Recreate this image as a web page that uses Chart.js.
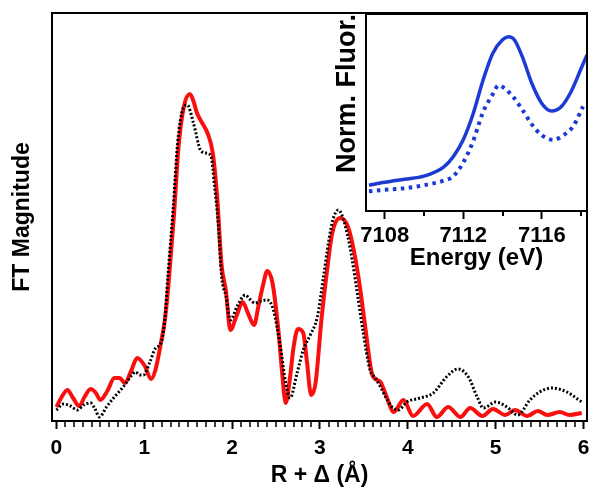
<!DOCTYPE html>
<html>
<head>
<meta charset="utf-8">
<script src="https://cdn.jsdelivr.net/npm/chart.js@4.4.1/dist/chart.umd.min.js"></script>
<style>
  html, body { margin: 0; padding: 0; background: #fff; }
  #wrap { position: relative; width: 602px; height: 500px; }
  #main { position: absolute; left: 0; top: 0; }
  #inset { position: absolute; left: 320px; top: 0; }
</style>
</head>
<body>
<div id="wrap">
  <canvas id="main" width="602" height="500"></canvas>
  <canvas id="inset" width="282" height="290"></canvas>
</div>
<script>
// FT magnitude, red solid trace
const rRed = [0.00, 0.06, 0.125, 0.19, 0.26, 0.32, 0.39, 0.45, 0.50, 0.58, 0.66, 0.72, 0.78, 0.85, 0.92, 1.00,
  1.08, 1.13, 1.19, 1.23, 1.26, 1.28, 1.34, 1.39, 1.45, 1.52, 1.56, 1.60, 1.66, 1.72, 1.78, 1.83, 1.88, 1.93,
  1.98, 2.05, 2.12, 2.18, 2.25, 2.30, 2.35, 2.40, 2.46, 2.53, 2.57, 2.61, 2.66, 2.70, 2.75, 2.81, 2.85, 2.90,
  2.95, 3.02, 3.08, 3.14, 3.23, 3.32, 3.40, 3.46, 3.52, 3.59, 3.65, 3.69, 3.76, 3.84, 3.95, 4.06, 4.22, 4.33,
  4.46, 4.60, 4.71, 4.85, 4.97, 5.11, 5.22, 5.36, 5.48, 5.59, 5.73, 5.84, 5.98];
const ftRed = [1.4, 2.4, 3.1, 2.3, 1.5, 2.4, 3.2, 2.8, 2.1, 3.0, 4.3, 4.3, 3.8, 5.0, 6.3, 5.6,
  4.2, 5.2, 7.8, 9.8, 12.1, 14.1, 20.8, 27.4, 31.4, 32.7, 32.0, 30.8, 29.8, 28.8, 26.8, 22.4, 15.6, 13.0,
  9.1, 10.5, 11.9, 10.8, 9.6, 11.5, 13.5, 15.0, 13.8, 8.8, 4.8, 1.8, 4.4, 7.4, 9.2, 8.8, 6.1, 2.6,
  3.8, 10.4, 15.0, 18.8, 20.3, 19.4, 16.4, 13.1, 9.1, 4.8, 4.1, 3.9, 2.4, 0.9, 2.1, 0.5, 1.7, 0.4,
  1.4, 0.4, 1.3, 0.5, 1.2, 0.6, 1.1, 0.5, 1.0, 0.6, 0.9, 0.6, 0.8];

// FT magnitude, black dotted trace
const rBlack = [0.00, 0.08, 0.16, 0.24, 0.31, 0.39, 0.44, 0.49, 0.57, 0.65, 0.76, 0.85, 0.90, 0.95, 0.99, 1.06,
  1.13, 1.19, 1.23, 1.27, 1.33, 1.38, 1.44, 1.49, 1.56, 1.64, 1.70, 1.76, 1.80, 1.84, 1.88, 1.93, 1.98,
  2.06, 2.15, 2.20, 2.26, 2.33, 2.40, 2.47, 2.55, 2.61, 2.66, 2.74, 2.81, 2.89, 2.97, 3.04, 3.10, 3.15,
  3.21, 3.28, 3.35, 3.42, 3.49, 3.57, 3.63, 3.69, 3.76, 3.82, 3.89, 3.99, 4.14, 4.29, 4.44, 4.57, 4.69,
  4.79, 4.86, 5.00, 5.13, 5.25, 5.39, 5.50, 5.64, 5.81, 5.98];
const ftBlack = [1.1, 1.7, 1.5, 1.1, 1.6, 1.8, 1.2, 0.4, 1.4, 2.3, 3.4, 4.5, 4.9, 4.6, 4.6, 5.8,
  7.3, 7.8, 9.8, 14.6, 21.3, 27.8, 31.2, 31.6, 29.8, 27.1, 26.8, 26.5, 23.5, 20.0, 14.5, 12.5, 10.1,
  11.5, 12.6, 12.2, 11.8, 12.0, 12.1, 11.1, 7.4, 3.8, 2.3, 4.8, 7.1, 8.6, 10.4, 14.4, 18.0, 20.2,
  21.1, 19.8, 17.0, 13.1, 9.0, 5.1, 4.3, 3.4, 2.2, 1.4, 1.1, 1.9, 2.3, 2.8, 4.4, 5.2, 4.4,
  2.4, 1.3, 1.9, 1.4, 0.6, 2.1, 2.9, 3.3, 2.9, 1.9];

// inset: normalized fluorescence vs energy
const eSolid = [7107.2, 7108, 7109, 7110, 7111, 7111.5, 7112, 7112.5, 7113, 7113.5, 7114, 7114.3, 7114.6,
  7115, 7115.5, 7116, 7116.5, 7117, 7117.5, 7118, 7118.3];
const fluorSolid = [0.17, 0.19, 0.21, 0.23, 0.29, 0.36, 0.47, 0.64, 0.86, 1.04, 1.13, 1.15, 1.13,
  1.02, 0.84, 0.71, 0.66, 0.69, 0.79, 0.94, 1.03];
const eDotted = [7107.2, 7108, 7109, 7110, 7111, 7111.5, 7112, 7112.5, 7113, 7113.5, 7113.8, 7114.1, 7114.5,
  7115, 7115.5, 7116, 7116.6, 7117.1, 7117.6, 7118.1];
const fluorDotted = [0.13, 0.14, 0.15, 0.17, 0.20, 0.23, 0.32, 0.46, 0.65, 0.77, 0.83, 0.81, 0.76,
  0.67, 0.57, 0.50, 0.47, 0.50, 0.56, 0.69];

const FONT = 'Liberation Sans, Arial, sans-serif';
const pts = (xs, ys) => xs.map((x, i) => ({ x, y: ys[i] }));

// box around the plot area + small minor ticks under the x axis
const frameAndMinor = {
  id: 'frameAndMinor',
  afterDraw(chart, args, opts) {
    const { ctx, chartArea: a } = chart;
    const xs = chart.scales.x;
    ctx.save();
    ctx.strokeStyle = '#000';
    ctx.lineWidth = 2;
    ctx.strokeRect(a.left, a.top, a.right - a.left, a.bottom - a.top);
    ctx.lineWidth = opts.width;
    for (let i = 0; i <= opts.count; i++) {
      if (i % opts.every === 0) continue;
      const px = Math.round(xs.getPixelForValue(opts.from + i * opts.step));
      ctx.beginPath();
      ctx.moveTo(px, a.bottom);
      ctx.lineTo(px, a.bottom + opts.len);
      ctx.stroke();
    }
    ctx.restore();
  }
};

new Chart(document.getElementById('main'), {
  type: 'line',
  data: {
    datasets: [
      {
        data: pts(rBlack, ftBlack),
        borderColor: '#000',
        borderWidth: 3,
        borderDash: [2, 2],
        pointRadius: 0,
        cubicInterpolationMode: 'monotone',
        order: 1
      },
      {
        data: pts(rRed, ftRed),
        borderColor: 'rgb(250,15,15)',
        borderWidth: 4,
        pointRadius: 0,
        borderJoinStyle: 'round',
        cubicInterpolationMode: 'monotone',
        order: 2
      }
    ]
  },
  options: {
    responsive: false,
    animation: false,
    events: [],
    layout: { padding: { top: 13, right: 15, left: 0, bottom: 0 } },
    plugins: {
      legend: { display: false },
      tooltip: { enabled: false },
      frameAndMinor: { from: 0, step: 0.1, count: 60, every: 10, len: 6, width: 1.5 }
    },
    scales: {
      x: {
        type: 'linear',
        min: -0.05,
        max: 6.04,
        afterFit: (s) => { s.height = 79; },
        border: { display: false },
        grid: { drawOnChartArea: false, tickLength: 8, tickWidth: 2, tickColor: '#000' },
        ticks: {
          stepSize: 1,
          includeBounds: false,
          padding: 7,
          color: '#000',
          font: { family: FONT, size: 21, weight: 'bold' }
        },
        title: {
          display: true,
          text: 'R + Δ (Å)',
          color: '#000',
          padding: { top: 0, bottom: 11 },
          font: { family: FONT, size: 23, weight: 'bold' }
        }
      },
      y: {
        min: 0,
        max: 40.8,
        afterFit: (s) => { s.width = 52; },
        border: { display: false },
        grid: { display: false },
        ticks: { display: false },
        title: {
          display: true,
          text: 'FT Magnitude',
          color: '#000',
          padding: { top: 9, bottom: 0 },
          font: { family: FONT, size: 23, weight: 'bold' }
        }
      }
    }
  },
  plugins: [frameAndMinor]
});

new Chart(document.getElementById('inset'), {
  type: 'line',
  data: {
    datasets: [
      {
        data: pts(eSolid, fluorSolid),
        borderColor: 'rgb(28,58,212)',
        borderWidth: 3.5,
        pointRadius: 0,
        cubicInterpolationMode: 'monotone'
      },
      {
        data: pts(eDotted, fluorDotted),
        borderColor: 'rgb(28,58,212)',
        borderWidth: 4,
        borderDash: [3.5, 4.5],
        pointRadius: 0,
        cubicInterpolationMode: 'monotone'
      }
    ]
  },
  options: {
    responsive: false,
    animation: false,
    events: [],
    layout: { padding: { top: 14, right: 15, left: 0, bottom: 0 } },
    plugins: {
      legend: { display: false },
      tooltip: { enabled: false },
      frameAndMinor: { from: 7108, step: 2, count: 5, every: 2, len: 5, width: 2 }
    },
    scales: {
      x: {
        type: 'linear',
        min: 7107.05,
        max: 7118.3,
        afterFit: (s) => { s.height = 79; },
        border: { display: false },
        grid: { drawOnChartArea: false, tickLength: 8, tickWidth: 2, tickColor: '#000' },
        ticks: {
          stepSize: 4,
          includeBounds: false,
          padding: 4,
          color: '#000',
          callback: (v) => String(v),
          font: { family: FONT, size: 22, weight: 'bold' }
        },
        title: {
          display: true,
          text: 'Energy (eV)',
          color: '#000',
          padding: { top: 0, bottom: 17 },
          font: { family: FONT, size: 24, weight: 'bold' }
        }
      },
      y: {
        min: 0,
        max: 1.3,
        afterFit: (s) => { s.width = 46; },
        border: { display: false },
        grid: { display: false },
        ticks: { display: false },
        title: {
          display: true,
          text: 'Norm. Fluor.',
          align: 'end',
          color: '#000',
          padding: { top: 11, bottom: 0 },
          font: { family: FONT, size: 27, weight: 'bold' }
        }
      }
    }
  },
  plugins: [frameAndMinor]
});
</script>
</body>
</html>
